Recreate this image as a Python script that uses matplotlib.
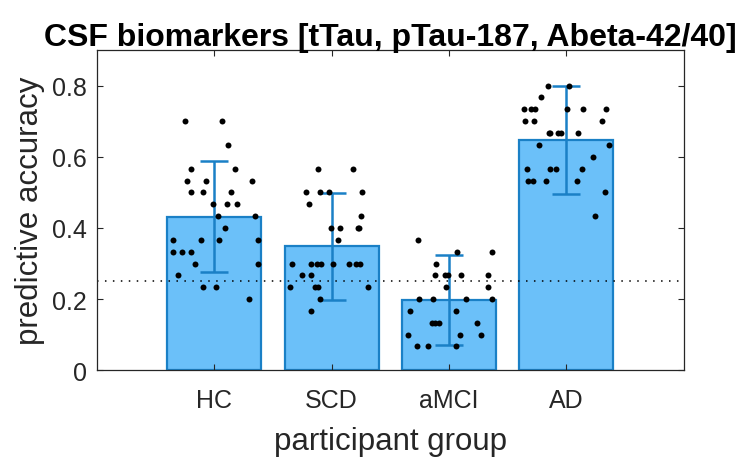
import matplotlib
matplotlib.use('Agg')
import matplotlib.pyplot as plt
import numpy as np

plt.rcParams['font.family'] = ['Liberation Sans', 'DejaVu Sans']

groups = ['HC', 'SCD', 'aMCI', 'AD']
means = [0.432, 0.348, 0.197, 0.648]
sds = [0.155, 0.150, 0.127, 0.152]
chance = 0.25

# single-subject accuracies (value, horizontal jitter) per group
hc_vals = [0.700, 0.700, 0.633, 0.567, 0.567, 0.533, 0.533, 0.533, 0.500, 0.500,
           0.500, 0.467, 0.467, 0.467, 0.433, 0.433, 0.400, 0.367, 0.367, 0.367,
           0.367, 0.333, 0.333, 0.333, 0.300, 0.300, 0.267, 0.233, 0.233, 0.200]
hc_jit = [-0.253, 0.063, 0.119, -0.199, 0.173, -0.230, -0.074, 0.321, -0.199, -0.094,
          0.139, -0.009, 0.105, 0.196, 0.028, 0.344, 0.094, -0.352, -0.116, 0.040,
          0.369, -0.355, -0.276, -0.196, -0.162, 0.369, -0.310, -0.094, 0.011, 0.298]

scd_vals = [0.567, 0.567, 0.500, 0.500, 0.500, 0.500, 0.467, 0.433, 0.400, 0.400,
            0.400, 0.400, 0.367, 0.300, 0.300, 0.300, 0.300, 0.300, 0.300, 0.300,
            0.300, 0.267, 0.267, 0.233, 0.233, 0.233, 0.233, 0.200, 0.167]
scd_jit = [-0.119, 0.182, -0.216, -0.097, -0.023, 0.259, -0.193, 0.247, -0.006, 0.071,
           0.224, 0.236, 0.054, -0.341, -0.176, -0.125, -0.088, 0.009, 0.145, 0.210,
           0.239, -0.253, -0.176, -0.358, -0.142, -0.114, 0.310, -0.102, -0.176]

amci_vals = [0.367, 0.333, 0.333, 0.300, 0.267, 0.267, 0.267, 0.267, 0.267, 0.233,
             0.233, 0.200, 0.200, 0.200, 0.200, 0.167, 0.167, 0.133, 0.133, 0.133,
             0.133, 0.100, 0.100, 0.100, 0.067, 0.067, 0.067]
amci_jit = [-0.267, 0.071, 0.366, -0.108, -0.119, -0.031, -0.009, 0.099, 0.330, -0.028,
            0.330, -0.253, -0.139, 0.142, 0.364, -0.332, 0.063, -0.145, -0.116, -0.085,
            0.241, -0.352, 0.091, 0.273, -0.270, -0.182, 0.060]

ad_vals = [0.800, 0.800, 0.767, 0.733, 0.733, 0.733, 0.733, 0.733, 0.733, 0.700,
           0.700, 0.700, 0.667, 0.667, 0.667, 0.667, 0.667, 0.633, 0.633, 0.600,
           0.567, 0.567, 0.567, 0.567, 0.533, 0.533, 0.533, 0.533, 0.500, 0.433]
ad_jit = [-0.156, 0.023, -0.213, -0.364, -0.304, -0.264, 0.009, 0.142, 0.341, -0.355,
          -0.276, 0.307, -0.151, -0.142, -0.071, -0.043, 0.102, -0.230, 0.361, 0.230,
          -0.338, -0.139, -0.091, 0.134, -0.324, -0.287, -0.176, 0.088, 0.327, 0.244]

face = '#6bc0f9'
edge = '#1a80c6'
txt = '#262626'

fig = plt.figure(figsize=(7.4, 4.6), dpi=100)
ax = fig.add_axes([0.131, 0.193, 0.793, 0.696])

x = np.arange(1, len(groups) + 1)
ax.bar(x, means, width=0.8, color=face, edgecolor=edge, linewidth=1.6, zorder=1)
ax.errorbar(x, means, yerr=sds, fmt='none', ecolor=edge, elinewidth=1.8,
            capsize=10, capthick=1.8, zorder=3)

ax.axhline(chance, color='black', linestyle=(0, (1, 4.2)), linewidth=1.1, zorder=2)

for xi, vals, jit in zip(x, [hc_vals, scd_vals, amci_vals, ad_vals],
                         [hc_jit, scd_jit, amci_jit, ad_jit]):
    ax.plot(xi + np.array(jit), vals, 'o', color='black', markersize=4.3,
            markeredgewidth=0, zorder=4)

ax.set_xlim(0, 5)
ax.set_ylim(0, 0.9)
ax.set_xticks(x)
ax.set_xticklabels(groups)
ax.set_yticks([0, 0.2, 0.4, 0.6, 0.8])
ax.set_yticklabels(['0', '0.2', '0.4', '0.6', '0.8'])
ax.tick_params(direction='in', length=4, width=0.8, top=True, right=True,
               labelsize=18, colors=txt)
ax.tick_params(axis='x', pad=13)
ax.tick_params(axis='y', pad=7)
for s in ax.spines.values():
    s.set_color(txt)
    s.set_linewidth(0.9)

ax.set_xlabel('participant group', fontsize=22.5, color=txt, labelpad=10)
ax.set_ylabel('predictive accuracy', fontsize=22.5, color=txt, labelpad=5)
ax.set_title('CSF biomarkers [tTau, pTau-187, Abeta-42/40]', fontsize=23,
             fontweight='bold', color='black', pad=4)

fig.savefig('out.png', dpi=100)
